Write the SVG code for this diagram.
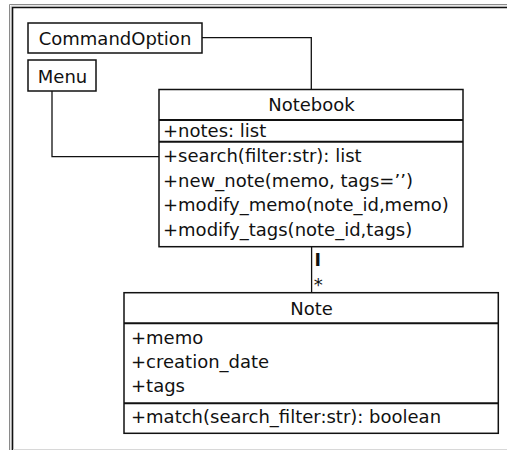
<svg xmlns="http://www.w3.org/2000/svg" width="507" height="450" viewBox="0 0 507 450">
<style>
text{font-family:"DejaVu Sans","Liberation Sans",sans-serif;font-size:18px;fill:#111}
.box{fill:#fff;stroke:#111;stroke-width:1.5}
.div{stroke:#111;stroke-width:2}
.c{text-anchor:middle}
.con{fill:none;stroke:#111;stroke-width:1.3}
</style>
<rect width="507" height="450" fill="#fff"/>
<g id="frame">
<path d="M9.5 450V4.5H507" fill="none" stroke="#8a8a8a" stroke-width="1"/>
<path d="M11 450V6H507" fill="none" stroke="#cfcfcf" stroke-width="1"/>
<path d="M12.5 450V7.5H507" fill="none" stroke="#111" stroke-width="1.6"/>
<path d="M13 449.5H507" fill="none" stroke="#d8d8d8" stroke-width="1"/>
</g>
<g id="connectors">
<path class="con" d="M202 37.7H311.3V89.5"/>
<path class="con" d="M52 91V156.7H159"/>
<path class="con" d="M311.6 246.7V292.7"/>
<text x="314.5" y="266" style="font-weight:bold;font-size:17.5px">I</text>
<text x="313.8" y="291">*</text>
</g>
<g id="CommandOption">
<rect class="box" x="28" y="23" width="174" height="30"/>
<text x="115" y="45" class="c">CommandOption</text>
</g>
<g id="Menu">
<rect class="box" x="28" y="60" width="68" height="31"/>
<text x="62.5" y="83" class="c">Menu</text>
</g>
<g id="Notebook">
<rect class="box" x="159" y="89.5" width="304" height="157.2"/>
<line class="div" x1="159" y1="120" x2="463" y2="120"/>
<line class="div" x1="159" y1="141.7" x2="463" y2="141.7"/>
<text x="311.5" y="111" class="c">Notebook</text>
<text x="163" y="137.3">+notes: list</text>
<text x="163" y="161.7">+search(filter:str): list</text>
<text x="163" y="186.5">+new_note(memo, tags=’’)</text>
<text x="163" y="211">+modify_memo(note_id,memo)</text>
<text x="163" y="235.8">+modify_tags(note_id,tags)</text>
</g>
<g id="Note">
<rect class="box" x="124" y="292.7" width="374.3" height="140.6"/>
<line class="div" x1="124" y1="323.3" x2="498.3" y2="323.3"/>
<line class="div" x1="124" y1="403.3" x2="498.3" y2="403.3"/>
<text x="311.5" y="315" class="c">Note</text>
<text x="131" y="344.3">+memo</text>
<text x="131" y="368.3">+creation_date</text>
<text x="131" y="392.3">+tags</text>
<text x="131" y="422.7">+match(search_filter:str): boolean</text>
</g>
</svg>
